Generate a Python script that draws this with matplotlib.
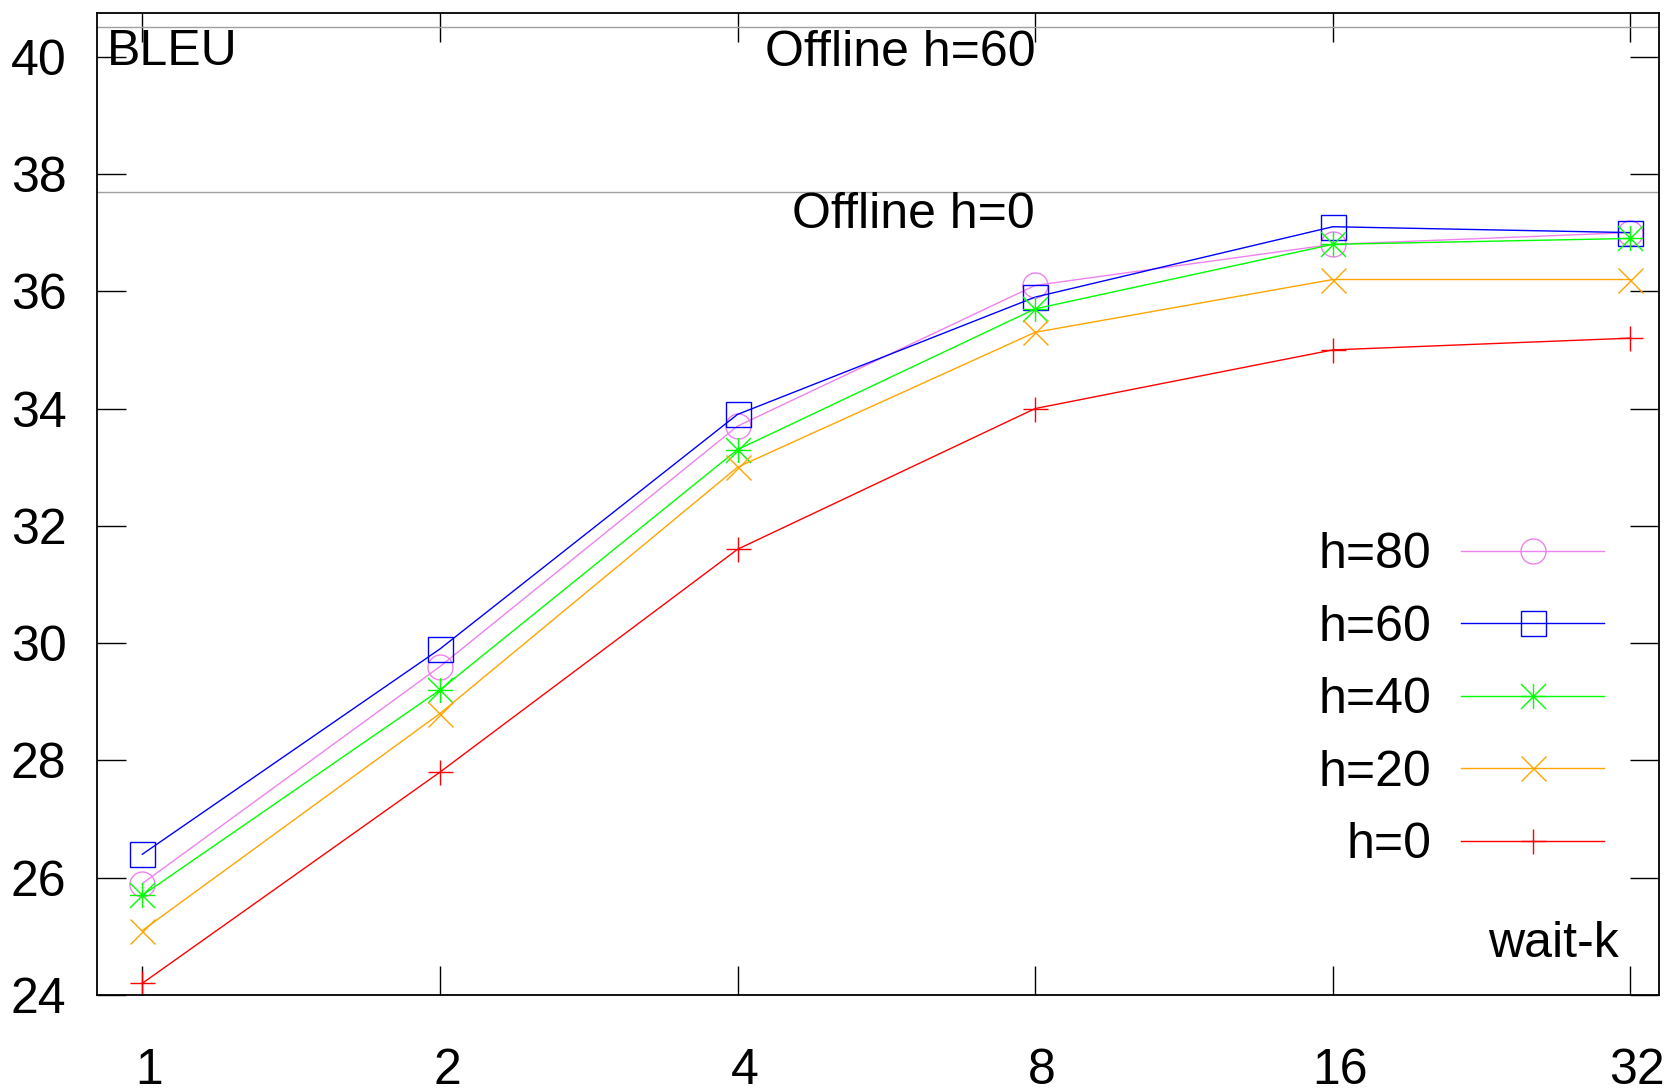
import numpy as np
import matplotlib
matplotlib.use('Agg')
import matplotlib.pyplot as plt
import matplotlib.transforms as mtransforms
from matplotlib.path import Path

plt.rcParams['font.family'] = ['Liberation Sans', 'DejaVu Sans']

# wait-k values on the x axis
wait_k = [1, 2, 4, 8, 16, 32]
xtick_labels = ['1', '2', '4', '8', '16', '32']

# BLEU per history size h
bleu_h80 = [25.9, 29.6, 33.7, 36.1, 36.8, 37.0]
bleu_h60 = [26.4, 29.9, 33.9, 35.9, 37.1, 37.0]
bleu_h40 = [25.7, 29.2, 33.3, 35.7, 36.8, 36.9]
bleu_h20 = [25.1, 28.8, 33.0, 35.3, 36.2, 36.2]
bleu_h0 = [24.2, 27.8, 31.6, 34.0, 35.0, 35.2]

offline_h60 = 40.5
offline_h0 = 37.7

# gnuplot style "*" = plus and cross together
star = Path([(-1, 0), (1, 0), (0, -1), (0, 1), (-1, -1), (1, 1), (-1, 1), (1, -1)],
            [Path.MOVETO, Path.LINETO] * 4)

series = [
    ('h=80', bleu_h80, 'violet', 'o'),
    ('h=60', bleu_h60, 'blue', 's'),
    ('h=40', bleu_h40, '#00ff00', star),
    ('h=20', bleu_h20, 'orange', 'x'),
    ('h=0', bleu_h0, 'red', '+'),
]

fig = plt.figure(figsize=(16.73, 10.92), dpi=100)
ax = fig.add_axes([0.058, 0.0888, 0.9336, 0.8996])

for name, vals, col, mk in series:
    ax.plot(wait_k, vals, color=col, marker=mk, markersize=18, markerfacecolor='none',
            markeredgecolor=col, markeredgewidth=1.0, linewidth=1.0, label=name)

ax.axhline(offline_h60, color='#a0a0a0', linewidth=1.0)
ax.axhline(offline_h0, color='#a0a0a0', linewidth=1.0)
ax.text(8, offline_h60 - 0.43, 'Offline h=60', ha='right', va='center', fontsize=36)
ax.text(8, offline_h0 - 0.40, 'Offline h=0', ha='right', va='center', fontsize=36)
ax.text(0.006, 0.947, 'BLEU', transform=ax.transAxes, ha='left', va='baseline', fontsize=36)
ax.text(0.974, 0.039, 'wait-k', transform=ax.transAxes, ha='right', va='baseline', fontsize=36)

ax.set_xscale('log', base=2)
ax.set_xlim(0.9, 34.2)
ax.set_ylim(24, 40.75)
ax.set_xticks(wait_k)
ax.set_xticklabels(xtick_labels)
ax.minorticks_off()
ax.set_yticks(np.arange(24, 41, 2))
ax.tick_params(direction='in', length=21, width=1.0, labelsize=36,
               top=True, right=True)
ax.tick_params(axis='x', pad=38)
ax.tick_params(axis='y', pad=22)
for s in ax.spines.values():
    s.set_linewidth(1.3)

off = mtransforms.ScaledTranslation(7 / 100, 0, fig.dpi_scale_trans)
for lab in ax.get_xticklabels():
    lab.set_transform(lab.get_transform() + off)

leg = ax.legend(loc='center right', bbox_to_anchor=(0.965, 0.300), frameon=False,
                fontsize=36, markerfirst=False, handlelength=2.86, handletextpad=0.6,
                labelspacing=0.53, borderpad=0, borderaxespad=0)
for col in leg._legend_handle_box.get_children():
    col.align = 'right'

fig.savefig('out.png', dpi=100)
